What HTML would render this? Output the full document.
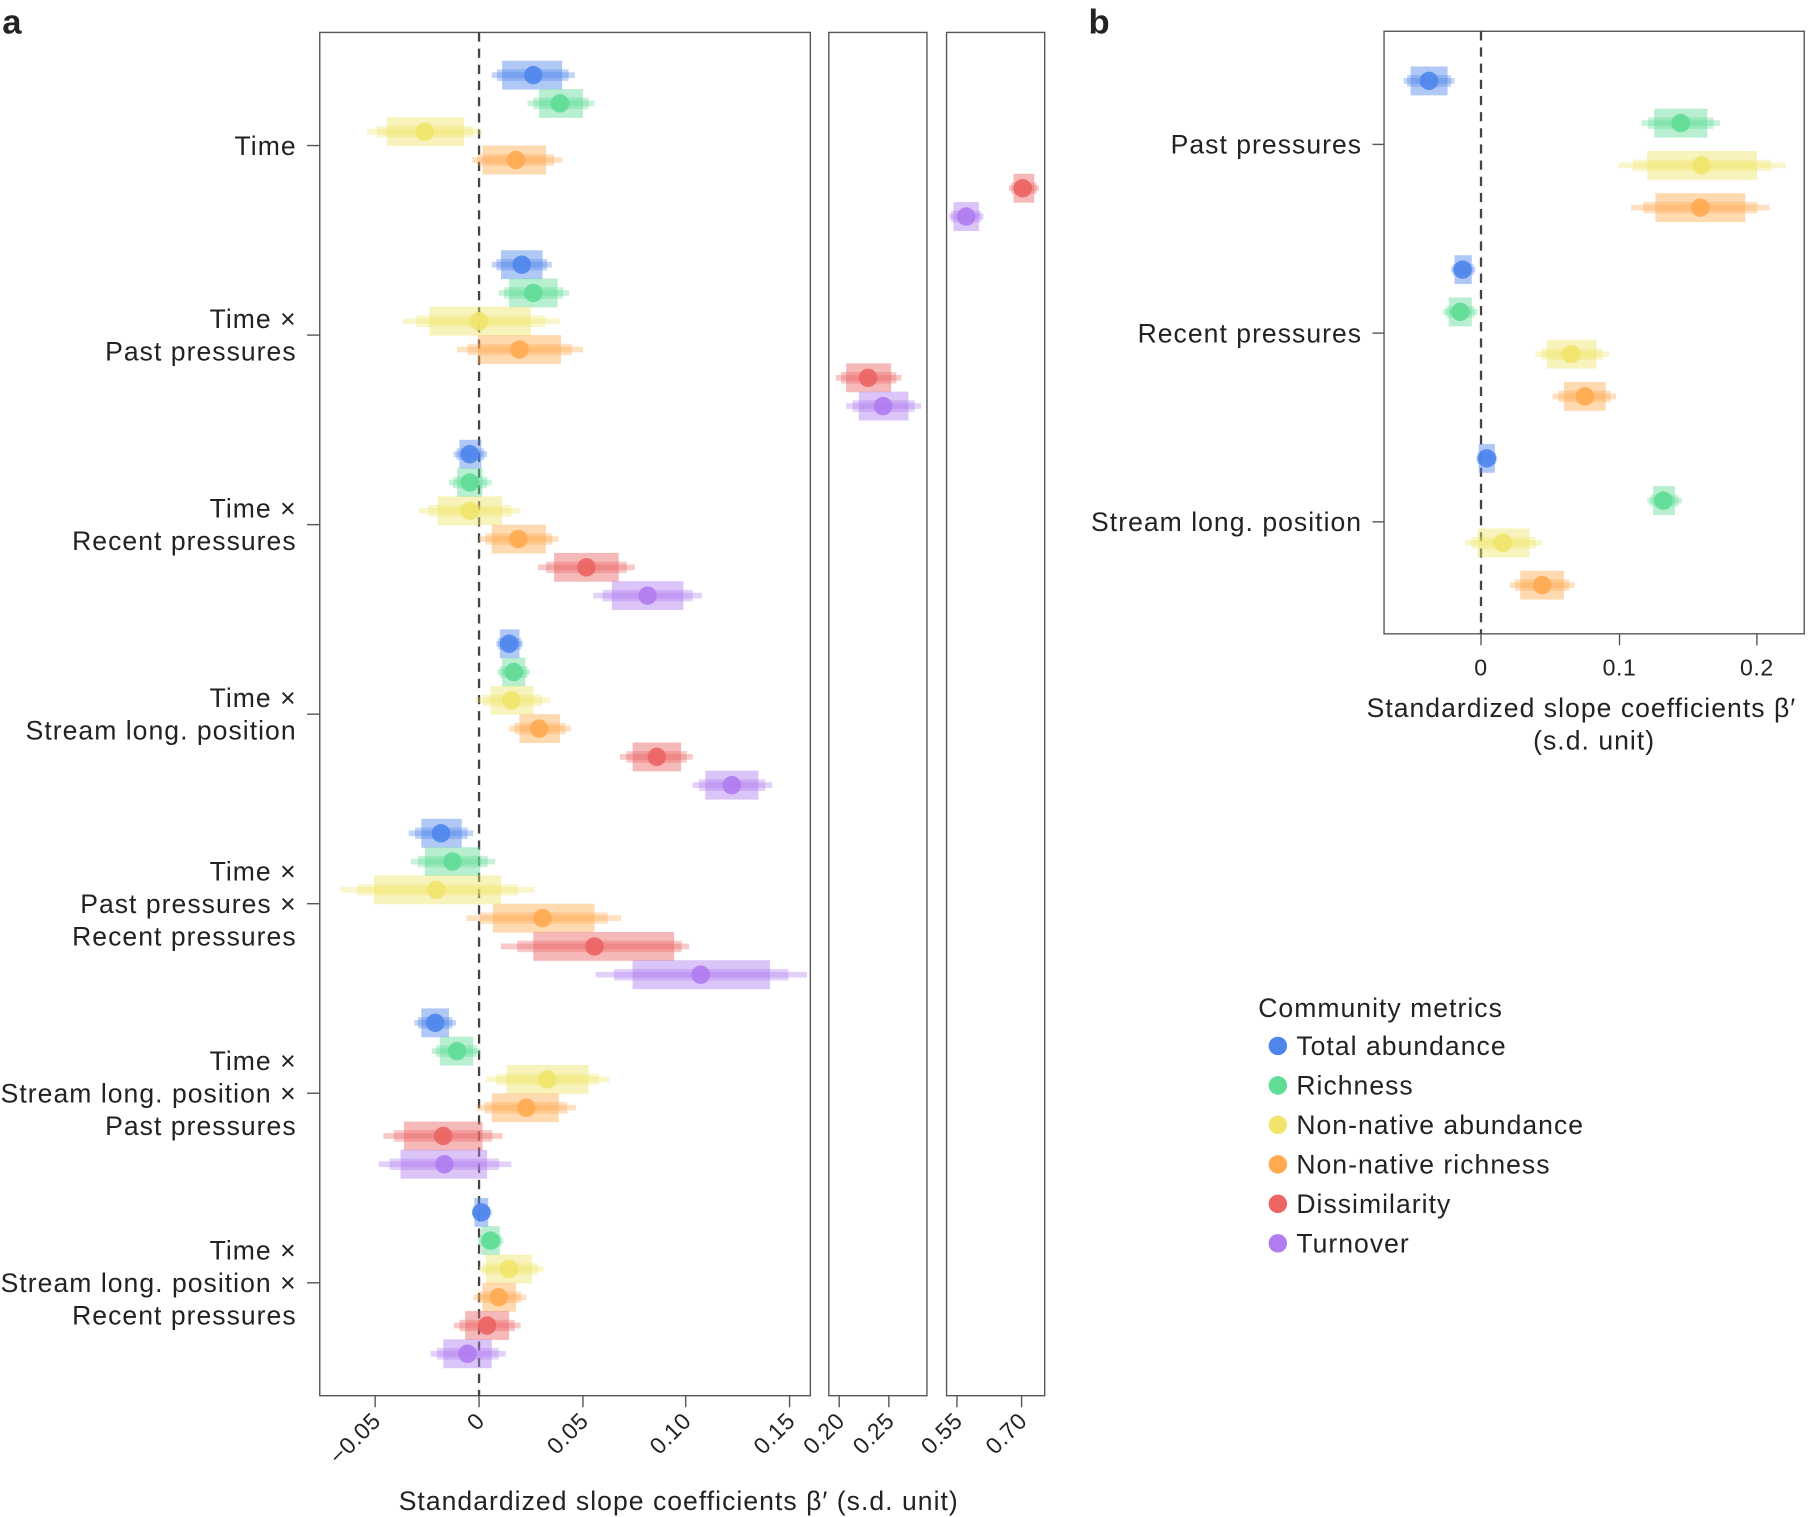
<!DOCTYPE html>
<html><head><meta charset="utf-8"><style>
html,body{margin:0;padding:0;background:#fff}
svg{display:block}
text{font-family:"Liberation Sans",sans-serif;fill:#222}
.L{font-size:23px;letter-spacing:0.9px}
.T{font-size:20px;letter-spacing:0.5px}
</style></head><body>
<svg id="s" width="1810" height="1517" viewBox="0 0 1568 1314" xmlns="http://www.w3.org/2000/svg">
<text x="2" y="29" font-size="30" font-weight="bold">a</text>
<text x="943" y="29" font-size="30" font-weight="bold">b</text>
<g fill="none" stroke="#555" stroke-width="1.2">
<rect x="277" y="28" width="425" height="1181"/>
<rect x="718" y="28" width="85" height="1181"/>
<rect x="820" y="28" width="85" height="1181"/>
<rect x="1199" y="27" width="364" height="522"/>
</g>
<line x1="415" y1="28" x2="415" y2="1209" stroke="#444" stroke-width="2" stroke-dasharray="8,6"/>
<line x1="1283" y1="27" x2="1283" y2="549" stroke="#444" stroke-width="2" stroke-dasharray="8,6"/>
<g id="g"></g>
</svg>
<script>
const S="http://www.w3.org/2000/svg",g=document.getElementById('g');
function el(t,a,txt){const e=document.createElementNS(S,t);for(const k in a)e.setAttribute(k,a[k]);if(txt!==undefined)e.textContent=txt;g.appendChild(e);return e;}
const C=['#4f86ec','#5fdc96','#f0e46a','#ffaa50','#ec6464','#b07cf0'];
function item(y,c,cx,bl,br,tl,tr){
 el('rect',{x:tl,y:y-2.5,width:tr-tl,height:5,fill:c,opacity:0.35});
 const ml=(tl+bl)/2,mr=(tr+br)/2;
 el('rect',{x:ml,y:y-5,width:mr-ml,height:10,fill:c,opacity:0.35});
 el('rect',{x:bl,y:y-12.5,width:br-bl,height:25,fill:c,opacity:0.45});
 el('circle',{cx:cx,cy:y,r:8,fill:c,opacity:0.9});
}
const A=[
[[462,435,487,426,498],[485,467,505,457,515],[368,335,402,318,418],[447,418,473,409,487],[886,878,896,874,900],[837,826,848,822,852]],
[[452,434,470,426,478],[462,441,483,432,493],[415,372,460,349,485],[450,414,486,396,505],[752,733,772,724,781],[765,744,787,733,798]],
[[407,398,417,393,422],[407,396,418,389,426],[407,379,435,363,451],[449,426,473,415,484],[508,480,536,466,550],[561,530,592,514,608]],
[[441,433,450,430,453],[445,435,455,431,459],[443,425,462,412,477],[467,450,485,441,495],[569,548,590,537,600],[634,611,657,600,669]],
[[382,365,400,354,410],[392,368,416,356,429],[378,324,434,295,463],[470,427,515,404,538],[515,462,584,434,597],[607,548,667,516,699]],
[[377,365,389,359,395],[396,381,410,374,416],[474,439,510,421,528],[456,426,484,413,499],[384,350,418,332,435],[385,347,422,328,443]],
[[417,411,423,409,426],[425,417,433,414,436],[441,421,461,415,471],[432,418,447,410,456],[422,403,441,393,451],[405,384,426,373,438]]];
const labels=[["Time"],["Time ×","Past pressures"],["Time ×","Recent pressures"],["Time ×","Stream long. position"],["Time ×","Past pressures ×","Recent pressures"],["Time ×","Stream long. position ×","Past pressures"],["Time ×","Stream long. position ×","Recent pressures"]];
A.forEach((grp,gi)=>{const c=126+164.2*gi;
 grp.forEach((d,i)=>item(c-61+24.5*i,C[i],...d));
 el('line',{x1:266,y1:c,x2:277,y2:c,stroke:'#555','stroke-width':1.2});
 const L=labels[gi],n=L.length;
 L.forEach((t,j)=>el('text',{x:257,y:c+8+(j-(n-1)/2)*28,class:'L','text-anchor':'end'},t));
});
const B=[
[[1238,1222,1254,1216,1260],[1456,1433,1479,1422,1490],[1474,1427,1522,1402,1547],[1473,1434,1512,1413,1533]],
[[1267,1260,1275,1257,1278],[1265,1255,1275,1250,1280],[1361,1340,1383,1330,1394],[1373,1355,1391,1345,1400]],
[[1288,1281,1295,1279,1297],[1441,1432,1451,1427,1457],[1302,1280,1325,1269,1336],[1336,1317,1355,1308,1364]]];
const bl=["Past pressures","Recent pressures","Stream long. position"];
B.forEach((grp,gi)=>{const c=125+163.5*gi;
 grp.forEach((d,i)=>item(c-55+36.6*i,C[i],...d));
 el('line',{x1:1189,y1:c,x2:1199,y2:c,stroke:'#555','stroke-width':1.2});
 el('text',{x:1180,y:c+8,class:'L','text-anchor':'end'},bl[gi]);
});
[[325,"−0.05"],[415,"0"],[505,"0.05"],[594,"0.10"],[684,"0.15"],[727,"0.20"],[770,"0.25"],[829,"0.55"],[885,"0.70"]].forEach(([x,t])=>{
 el('line',{x1:x,y1:1209,x2:x,y2:1219,stroke:'#555','stroke-width':1.2});
 el('text',{x:x+6,y:1232,class:'T','text-anchor':'end',transform:`rotate(-45 ${x+6} 1232)`},t);
});
el('text',{x:588,y:1308,class:'L','text-anchor':'middle'},"Standardized slope coefficients β′ (s.d. unit)");
[[1283,"0"],[1403,"0.1"],[1522,"0.2"]].forEach(([x,t])=>{
 el('line',{x1:x,y1:549,x2:x,y2:559,stroke:'#555','stroke-width':1.2});
 el('text',{x:x,y:585,class:'T','text-anchor':'middle'},t);
});
el('text',{x:1370,y:621,class:'L','text-anchor':'middle'},"Standardized slope coefficients β′");
el('text',{x:1381,y:649,class:'L','text-anchor':'middle'},"(s.d. unit)");
el('text',{x:1090,y:881,class:'L'},"Community metrics");
["Total abundance","Richness","Non-native abundance","Non-native richness","Dissimilarity","Turnover"].forEach((t,i)=>{
 const y=906+34.2*i;
 el('circle',{cx:1107,cy:y,r:8,fill:C[i]});
 el('text',{x:1123,y:y+8,class:'L'},t);
});
</script>
</body></html>
